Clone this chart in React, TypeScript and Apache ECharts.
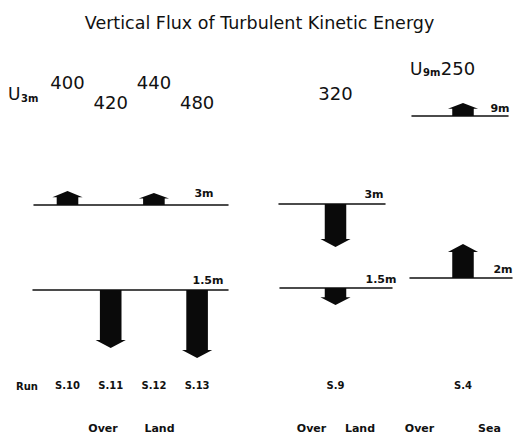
import React, { useEffect, useRef } from "react";
import * as echarts from "echarts";

// ---------- data ----------
const titleText = "Vertical Flux of Turbulent Kinetic Energy";

// Over Land (first group)
const landRuns = ["S.10", "S.11", "S.12", "S.13"];
const landU3m = [400, 420, 440, 480];
const landFlux3m = [7, 0, 6, 0];
const landFlux15m = [0, -29, 0, -34];

// Over Land (second group)
const land2Runs = ["S.9"];
const land2U3m = [320];
const land2Flux3m = [-21.5];
const land2Flux15m = [-8.5];

// Over Sea
const seaRuns = ["S.4"];
const seaU9m = [250];
const seaFlux9m = [6.5];
const seaFlux2m = [17];

const FONT = "DejaVu Sans";
const INK = "#111";

// y axis (flux units) of every level strip: 2 px per unit, zero 40 px below strip top
const Y_MIN = -40;
const Y_MAX = 20;
const STRIP_H = 120;
const ZERO_OFF = (Y_MAX / (Y_MAX - Y_MIN)) * STRIP_H;

type Level = {
  runs: string[];
  flux: number[];
  baseY: number;
  arrowLeft: number;
  band: number;
  lineLeft: number;
  lineRight: number;
  uValues?: number[];
  uMargin?: number;
  stagger?: boolean;
  runMargin?: number;
};

const levels: Level[] = [
  { runs: landRuns, flux: landFlux3m, baseY: 205, arrowLeft: 45.9, band: 43.2, lineLeft: 34, lineRight: 228, uValues: landU3m, uMargin: 94, stagger: true },
  { runs: landRuns, flux: landFlux15m, baseY: 290, arrowLeft: 45.9, band: 43.2, lineLeft: 33, lineRight: 228, runMargin: 90 },
  { runs: land2Runs, flux: land2Flux3m, baseY: 204, arrowLeft: 314, band: 43, lineLeft: 279, lineRight: 385, uValues: land2U3m, uMargin: 102 },
  { runs: land2Runs, flux: land2Flux15m, baseY: 288, arrowLeft: 314, band: 43, lineLeft: 280, lineRight: 392, runMargin: 92 },
  { runs: seaRuns, flux: seaFlux9m, baseY: 116, arrowLeft: 441.5, band: 43, lineLeft: 412, lineRight: 508 },
  { runs: seaRuns, flux: seaFlux2m, baseY: 278, arrowLeft: 441.5, band: 43, lineLeft: 410, lineRight: 512, runMargin: 102 },
];

const renderArrow = (params: any, api: any) => {
  const v = api.value(1);
  if (!v) return { type: "group", children: [] };
  const p0 = api.coord([api.value(0), 0]);
  const p1 = api.coord([api.value(0), v]);
  const band = api.size([1, 0])[0];
  const shaft = band * 0.5;
  const head = band * 0.7;
  const len = p1[1] - p0[1];
  const dir = Math.sign(len);
  const L = Math.abs(len);
  const hh = Math.min(8, L * 0.45);
  const x = p0[0];
  const y0 = p0[1];
  const yb = y0 + dir * (L - hh);
  const yt = y0 + dir * L;
  return {
    type: "polygon",
    shape: {
      points: [
        [x - shaft / 2, y0],
        [x + shaft / 2, y0],
        [x + shaft / 2, yb],
        [x + head / 2, yb],
        [x, yt],
        [x - head / 2, yb],
        [x - shaft / 2, yb],
      ],
    },
    style: { fill: "#0a0a0a" },
  };
};

const txt = (text: string, x: number, y: number, font: string, align = "center") => ({
  type: "text",
  silent: true,
  style: {
    text,
    x,
    y,
    font,
    fill: INK,
    textAlign: align,
    align,
    textVerticalAlign: "middle",
    verticalAlign: "middle",
  },
});

export default function App() {
  const ref = useRef<HTMLDivElement>(null);

  useEffect(() => {
    document.body.style.margin = "0";
    if (!ref.current) return;
    const chart = echarts.init(ref.current, undefined, { renderer: "svg" });

    const grid: any[] = [];
    const xAxis: any[] = [];
    const yAxis: any[] = [];
    const series: any[] = [];

    levels.forEach((lv) => {
      const gi = grid.length;
      const top = lv.baseY - ZERO_OFF;
      grid.push({
        left: lv.arrowLeft,
        top,
        width: lv.band * lv.runs.length,
        height: STRIP_H,
        containLabel: false,
        outerBoundsMode: "none",
      });
      let axisLabel: any = { show: false };
      let position = "bottom";
      if (lv.uValues) {
        const u = lv.uValues;
        const stagger = !!lv.stagger;
        position = "top";
        axisLabel = {
          show: true,
          interval: 0,
          margin: (lv.uMargin as number) - ZERO_OFF,
          formatter: (_v: string, idx: number) =>
            stagger && idx % 2 === 0 ? `{hi|${u[idx]}}` : `{lo|${u[idx]}}`,
          rich: {
            hi: { fontSize: 18, lineHeight: 58, fontFamily: FONT, color: INK },
            lo: { fontSize: 18, lineHeight: 18, fontFamily: FONT, color: INK },
          },
        };
      } else if (lv.runMargin !== undefined) {
        axisLabel = {
          show: true,
          interval: 0,
          margin: lv.runMargin - (STRIP_H - ZERO_OFF),
          fontSize: 10,
          fontWeight: "bold",
          fontFamily: FONT,
          color: INK,
        };
      }
      xAxis.push({
        type: "category",
        gridIndex: gi,
        data: lv.runs,
        position,
        axisLine: { show: false, onZero: false },
        axisTick: { show: false },
        splitLine: { show: false },
        axisLabel,
      });
      yAxis.push({ type: "value", gridIndex: gi, min: Y_MIN, max: Y_MAX, show: false });
      series.push({
        type: "custom",
        xAxisIndex: gi,
        yAxisIndex: gi,
        data: lv.flux.map((f, j) => [j, f]),
        encode: { x: 0, y: 1 },
        renderItem: renderArrow,
        clip: false,
        silent: true,
      });

      const li = grid.length;
      grid.push({
        left: lv.lineLeft,
        top: lv.baseY - 10,
        width: lv.lineRight - lv.lineLeft,
        height: 10,
        containLabel: false,
        outerBoundsMode: "none",
      });
      xAxis.push({
        type: "value",
        gridIndex: li,
        min: 0,
        max: 1,
        axisLine: { show: true, onZero: false, lineStyle: { color: INK, width: 1.5 } },
        axisTick: { show: false },
        axisLabel: { show: false },
        splitLine: { show: false },
      });
      yAxis.push({ type: "value", gridIndex: li, min: 0, max: 1, show: false });
    });

    const graphic: any[] = [
      txt("Run", 27, 386, `bold 10px '${FONT}'`),
      txt("U", 8, 94, `17px '${FONT}'`, "left"),
      txt("3m", 21, 98, `bold 10px '${FONT}'`, "left"),
      txt("U", 410, 68.5, `17px '${FONT}'`, "left"),
      txt("9m", 423, 72, `bold 10px '${FONT}'`, "left"),
      txt(String(seaU9m[0]), 458, 68.5, `18px '${FONT}'`),
      txt("3m", 204, 193.5, `bold 11px '${FONT}'`),
      txt("1.5m", 208, 280, `bold 11px '${FONT}'`),
      txt("3m", 374, 194, `bold 11px '${FONT}'`),
      txt("1.5m", 381, 279, `bold 11px '${FONT}'`),
      txt("9m", 500, 108.5, `bold 11px '${FONT}'`),
      txt("2m", 503, 269, `bold 11px '${FONT}'`),
      txt("Over", 103, 428, `bold 11px '${FONT}'`),
      txt("Land", 159.5, 428, `bold 11px '${FONT}'`),
      txt("Over", 311.5, 428, `bold 11px '${FONT}'`),
      txt("Land", 360, 428, `bold 11px '${FONT}'`),
      txt("Over", 419.5, 428, `bold 11px '${FONT}'`),
      txt("Sea", 489.5, 428, `bold 11px '${FONT}'`),
    ];

    chart.setOption({
      animation: false,
      backgroundColor: "#fff",
      title: {
        text: titleText,
        left: "center",
        top: 9,
        textStyle: { fontFamily: FONT, fontSize: 17.5, fontWeight: "normal", color: INK },
      },
      grid,
      xAxis,
      yAxis,
      series,
      graphic,
    });

    return () => chart.dispose();
  }, []);

  return <div ref={ref} style={{ width: 519, height: 435 }} />;
}
